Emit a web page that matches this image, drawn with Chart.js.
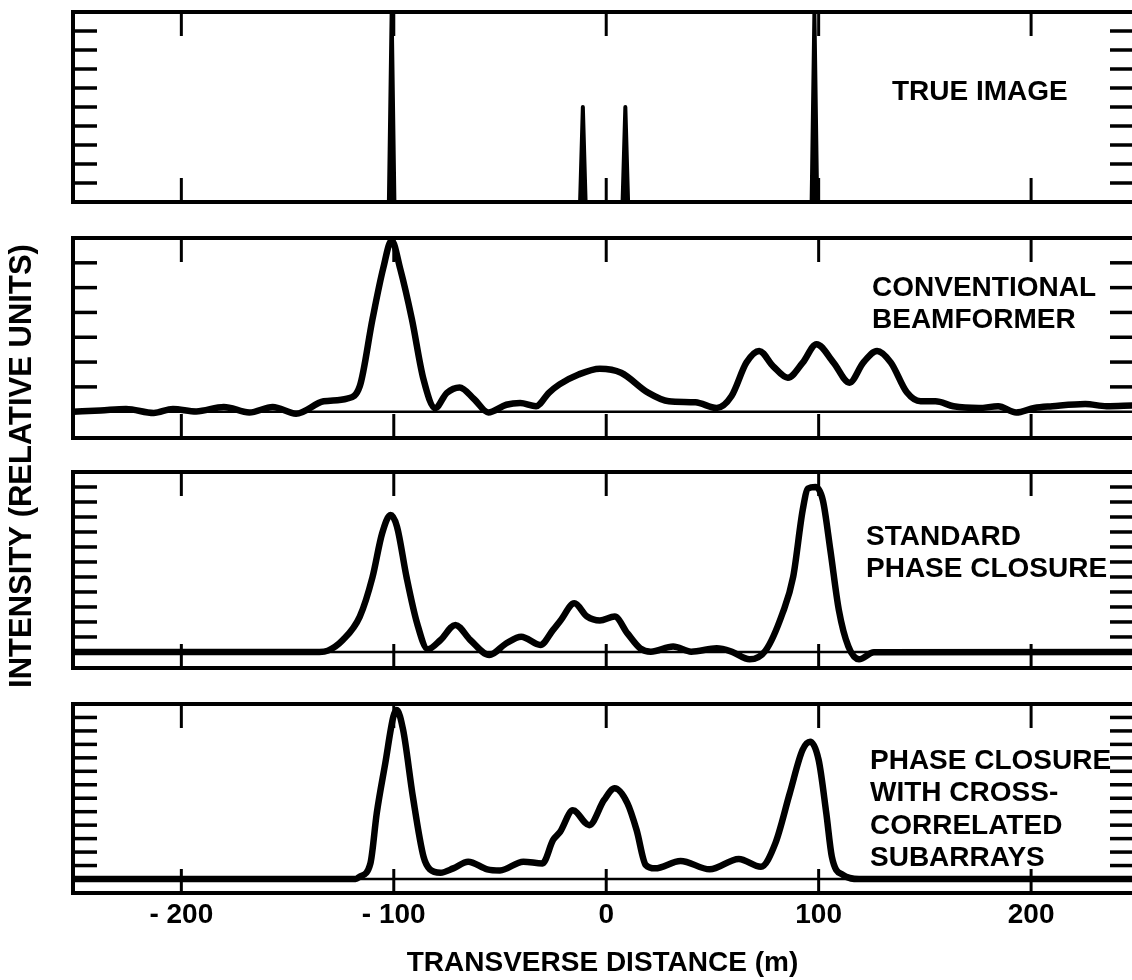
<!DOCTYPE html>
<html>
<head>
<meta charset="utf-8">
<script src="https://cdn.jsdelivr.net/npm/chart.js@4.4.1/dist/chart.umd.min.js"></script>
<style>
  html, body { margin: 0; padding: 0; background: #fff; }
  #wrap { position: relative; width: 1132px; height: 980px; overflow: hidden; }
  #wrap canvas { position: absolute; left: 0; top: 0; }
</style>
</head>
<body>
<div id="wrap">
  <canvas id="p1" width="1132" height="980"></canvas>
  <canvas id="p2" width="1132" height="980"></canvas>
  <canvas id="p3" width="1132" height="980"></canvas>
  <canvas id="p4" width="1132" height="980"></canvas>
</div>
<script>
// shared x axis (transverse distance, m)
const X_MIN = -251, X_MAX = 247.5;
const xTicks = [-200, -100, 0, 100, 200];

// TRUE IMAGE: point targets
const trueX = [-101, -11, 9, 98];
const trueY = [10, 5, 5, 10];
const trueTicks = [1, 2, 3, 4, 5, 6, 7, 8, 9];

// CONVENTIONAL BEAMFORMER
const convX = [-251, -238, -226, -213, -204, -193, -180, -168, -157, -146, -133, -122, -116, -110, -105, -101, -97, -91.5, -86, -80.5,
  -75, -69, -62, -55.5, -47, -40.5, -33, -27, -22, -13, -3, 7, 19.5, 29.5, 42, 52, 59, 66, 72, 78.5,
  85.5, 92.5, 99, 107, 114.5, 121, 127.5, 134, 141.5, 148, 155, 163.5, 175.5, 184.5, 193, 201.5, 210, 225.5, 235.5, 247.5];
const convY = [0.0, 0.05, 0.11, -0.05, 0.11, 0.01, 0.19, -0.03, 0.19, -0.08, 0.42, 0.53, 1.03, 3.74, 5.77, 6.9, 5.77, 3.74, 1.3, 0.15,
  0.76, 0.98, 0.49, -0.03, 0.28, 0.35, 0.22, 0.76, 1.1, 1.5, 1.73, 1.57, 0.78, 0.42, 0.38, 0.15, 0.63, 1.98, 2.45, 1.84,
  1.37, 1.98, 2.72, 1.98, 1.17, 1.98, 2.45, 1.98, 0.78, 0.42, 0.42, 0.22, 0.15, 0.22, -0.03, 0.15, 0.22, 0.31, 0.22, 0.25];
const convTicks = [1, 2, 3, 4, 5, 6];

// STANDARD PHASE CLOSURE
const stdX = [-251, -135, -131, -124, -116, -110, -105.5, -101.5, -98.5, -94, -89, -84, -78, -71, -64, -55, -47, -40, -31, -25,
  -21.5, -15, -9, -3, 4, 10, 16, 21, 31.5, 40, 52, 59, 67.5, 75, 83, 88, 92.5, 95, 98.5, 102,
  105.5, 109.5, 114, 119, 126, 247.5];
const stdY = [0, 0, 0.09, 0.8, 2.36, 5.0, 7.9, 9.13, 8.36, 5.0, 1.9, 0.18, 0.8, 1.8, 0.8, -0.2, 0.58, 1.02, 0.47, 1.47,
  2.1, 3.24, 2.36, 2.1, 2.36, 1.24, 0.24, 0.02, 0.36, 0.02, 0.24, 0.02, -0.49, 0.09, 2.58, 5.0, 9.47, 10.9, 11.0, 10.1,
  6.8, 2.8, 0.36, -0.49, -0.02, 0];
const stdTicks = [1, 2, 3, 4, 5, 6, 7, 8, 9, 10, 11];

// PHASE CLOSURE WITH CROSS-CORRELATED SUBARRAYS
const crossX = [-251, -118, -116, -111, -108, -104, -100.2, -98.6, -95.6, -91, -86, -83, -78, -72, -65, -56, -50, -39, -30, -25,
  -21.7, -15.7, -8, -1, 4, 10, 14.3, 18.6, 23, 35, 48.7, 62.4, 72.8, 79.6, 86.4, 92.4, 96, 100, 103.6, 106.2,
  111.4, 119, 247.5];
const crossY = [0, 0, 0.17, 1.16, 4.9, 8.6, 12.06, 12.55, 11.07, 6.1, 1.66, 0.72, 0.47, 0.79, 1.29, 0.72, 0.64, 1.29, 1.16, 2.9,
  3.5, 5.1, 4.0, 5.87, 6.74, 5.62, 3.64, 1.04, 0.79, 1.34, 0.72, 1.49, 0.91, 2.65, 6.37, 9.58, 10.2, 8.84, 4.88, 1.66,
  0.3, 0, 0];
const crossTicks = [1, 2, 3, 4, 5, 6, 7, 8, 9, 10, 11, 12];

const FONT = '"Liberation Sans", Arial, Helvetica, sans-serif';

function toPoints(xs, ys) {
  return xs.map((v, i) => ({ x: v, y: ys[i] }));
}

// thin tapered spikes for the point targets
function spikePoints(xs, hs) {
  const pts = [{ x: X_MIN, y: 0 }];
  xs.forEach((p, i) => {
    pts.push({ x: p - 1.3, y: 0 }, { x: p, y: hs[i] }, { x: p + 1.3, y: 0 });
  });
  pts.push({ x: X_MAX, y: 0 });
  return pts;
}

// frame, inner ticks, zero line and panel caption
const framePlugin = {
  id: 'frame',
  afterDatasetsDraw(chart, args, opts) {
    const { ctx, chartArea: a, scales: { x, y } } = chart;
    const line = (x1, y1, x2, y2) => { ctx.beginPath(); ctx.moveTo(x1, y1); ctx.lineTo(x2, y2); ctx.stroke(); };
    ctx.save();
    ctx.strokeStyle = '#000';
    ctx.fillStyle = '#000';

    if (opts.zeroLine) {
      ctx.lineWidth = 2.5;
      const z = y.getPixelForValue(0);
      line(a.left, z, a.right, z);
    }

    ctx.lineWidth = 3;
    xTicks.forEach(v => {
      const px = x.getPixelForValue(v);
      line(px, a.top, px, a.top + 24);
      line(px, a.bottom, px, a.bottom - 24);
    });
    ctx.lineWidth = 3.5;
    opts.yTicks.forEach(v => {
      const py = y.getPixelForValue(v);
      line(a.left, py, a.left + 24, py);
      line(a.right, py, a.right - 22, py);
    });

    ctx.lineWidth = 4;
    ctx.lineCap = 'square';
    line(a.left, a.top, a.right, a.top);
    line(a.left, a.bottom, a.right, a.bottom);
    line(a.left, a.top, a.left, a.bottom);

    ctx.font = 'bold 28px ' + FONT;
    ctx.textAlign = 'left';
    ctx.textBaseline = 'middle';
    opts.caption.forEach((t, i) => ctx.fillText(t, opts.capX, opts.capY + i * opts.capGap));
    ctx.restore();
  }
};

const yTitlePlugin = {
  id: 'yTitle',
  afterDraw(chart) {
    const ctx = chart.ctx;
    ctx.save();
    ctx.translate(22, 466);
    ctx.rotate(-Math.PI / 2);
    ctx.font = 'bold 31px ' + FONT;
    ctx.fillStyle = '#000';
    ctx.textAlign = 'center';
    ctx.textBaseline = 'middle';
    ctx.fillText('INTENSITY (RELATIVE UNITS)', 0, 0);
    ctx.restore();
  }
};

function makePanel(id, cfg) {
  const xAxis = {
    type: 'linear',
    min: X_MIN,
    max: X_MAX,
    display: !!cfg.showX
  };
  if (cfg.showX) {
    Object.assign(xAxis, {
      grid: { display: false, drawTicks: false },
      border: { display: false },
      afterBuildTicks: s => { s.ticks = xTicks.map(v => ({ value: v })); },
      afterFit: s => { s.height = 87; },
      ticks: {
        color: '#000',
        padding: 5,
        maxRotation: 0,
        autoSkip: false,
        font: { family: FONT, size: 28, weight: 'bold' },
        callback: v => (v < 0 ? '- ' + Math.abs(v) : String(v))
      },
      title: {
        display: true,
        text: 'TRANSVERSE DISTANCE (m)',
        color: '#000',
        padding: { top: 0, bottom: 0 },
        font: { family: FONT, size: 28, weight: 'bold' }
      }
    });
  }

  return new Chart(document.getElementById(id), {
    type: 'line',
    data: {
      datasets: [{
        data: cfg.points,
        borderColor: '#000',
        backgroundColor: '#000',
        borderWidth: cfg.lineWidth,
        borderJoinStyle: 'round',
        borderCapStyle: 'round',
        pointRadius: 0,
        fill: cfg.fill ? 'origin' : false,
        tension: 0,
        cubicInterpolationMode: cfg.smooth ? 'monotone' : 'default'
      }]
    },
    options: {
      responsive: false,
      animation: false,
      events: [],
      layout: { padding: { left: 73, right: 0, top: cfg.top, bottom: cfg.bottom } },
      plugins: {
        legend: { display: false },
        tooltip: { enabled: false },
        frame: cfg.frame
      },
      scales: {
        x: xAxis,
        y: { min: cfg.yMin, max: cfg.yMax, display: false }
      }
    },
    plugins: cfg.extra ? [framePlugin, cfg.extra] : [framePlugin]
  });
}

makePanel('p1', {
  points: spikePoints(trueX, trueY), lineWidth: 4, fill: true, smooth: false,
  top: 12, bottom: 980 - 202, yMin: 0, yMax: 10,
  frame: { zeroLine: false, yTicks: trueTicks, caption: ['TRUE IMAGE'], capX: 892, capY: 92, capGap: 32 }
});

makePanel('p2', {
  points: toPoints(convX, convY), lineWidth: 6.5, smooth: true,
  top: 238, bottom: 980 - 438, yMin: -1.06, yMax: 7,
  frame: { zeroLine: true, yTicks: convTicks, caption: ['CONVENTIONAL', 'BEAMFORMER'], capX: 872, capY: 288, capGap: 32 },
  extra: yTitlePlugin
});

makePanel('p3', {
  points: toPoints(stdX, stdY), lineWidth: 6.5, smooth: true,
  top: 472, bottom: 980 - 668, yMin: -1.07, yMax: 12,
  frame: { zeroLine: true, yTicks: stdTicks, caption: ['STANDARD', 'PHASE CLOSURE'], capX: 866, capY: 537, capGap: 32 }
});

makePanel('p4', {
  points: toPoints(crossX, crossY), lineWidth: 6.5, smooth: true, showX: true,
  top: 704, bottom: 0, yMin: -1.04, yMax: 13,
  frame: { zeroLine: true, yTicks: crossTicks, caption: ['PHASE CLOSURE', 'WITH CROSS-', 'CORRELATED', 'SUBARRAYS'], capX: 870, capY: 761, capGap: 32.5 }
});
</script>
</body>
</html>
